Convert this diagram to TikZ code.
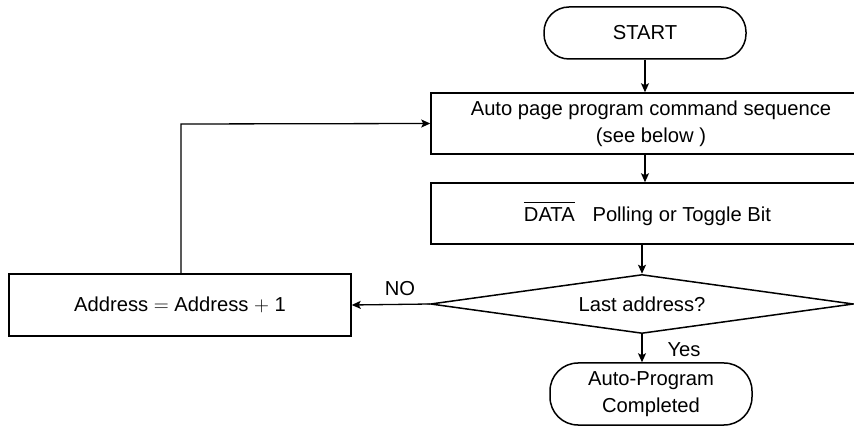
\documentclass[tikz,border=0pt]{standalone}
\usepackage{fontspec}
\setmainfont{Liberation Sans}
\usetikzlibrary{arrows.meta,shapes.geometric}
\newlength\myovlen
\newcommand\myovl[1]{\settowidth{\myovlen}{#1}\rlap{\rule[0.93em]{\myovlen}{0.8pt}}#1}
\tikzset{
  every node/.style={font=\fontsize{20.2}{27}\selectfont, inner sep=0pt, align=center},
  flowbox/.style={draw, line width=1.5pt, rectangle},
  term/.style={draw, line width=1.5pt, rectangle, rounded corners=25pt},
  decide/.style={draw, line width=1.5pt, diamond, aspect=7},
  arr/.style={line width=1.3pt, -{Stealth[length=9pt,width=8pt,inset=2pt]}},
  lbl/.style={font=\fontsize{20.2}{24}\selectfont}
}
\begin{document}
\begin{tikzpicture}[x=1pt,y=-1pt]
\useasboundingbox (0,0) rectangle (854,427);
\node[term, minimum width=202pt, minimum height=52pt] (start) at (645,33) {START};
\node[flowbox, minimum width=440pt, minimum height=61pt] (seq) at (651,123.5)
  {Auto page program command sequence\\(see below )};
\node[flowbox, minimum width=433pt, minimum height=61pt] (poll) at (647.5,213.5)
  {\myovl{DATA}\hspace{0.6em} Polling or Toggle Bit};
\node[decide, minimum width=423pt, minimum height=59pt] (last) at (642,304) {Last address?};
\node[term, minimum width=202pt, minimum height=62pt, rounded corners=28pt] (done) at (651,394)
  {Auto-Program\\Completed};
\node[flowbox, minimum width=342pt, minimum height=62pt] (addr) at (180,305)
  {Address $=$ Address $+$ 1};
\coordinate (corner) at (181,124);
\draw[arr] (start.south) -- (seq.north -| start.south);
\draw[arr] (seq.south -| start.south) -- (poll.north -| start.south);
\draw[arr] (poll.south -| last.north) -- (last.north);
\draw[arr] (last.south) -- (done.north -| last.south);
\draw[arr] (last.west) -- (addr.east);
\draw[arr] (addr.north -| corner) -- (corner) -- (seq.west);
\node[lbl] at (400,289) {NO};
\node[lbl] at (684,350) {Yes};
\end{tikzpicture}
\end{document}
